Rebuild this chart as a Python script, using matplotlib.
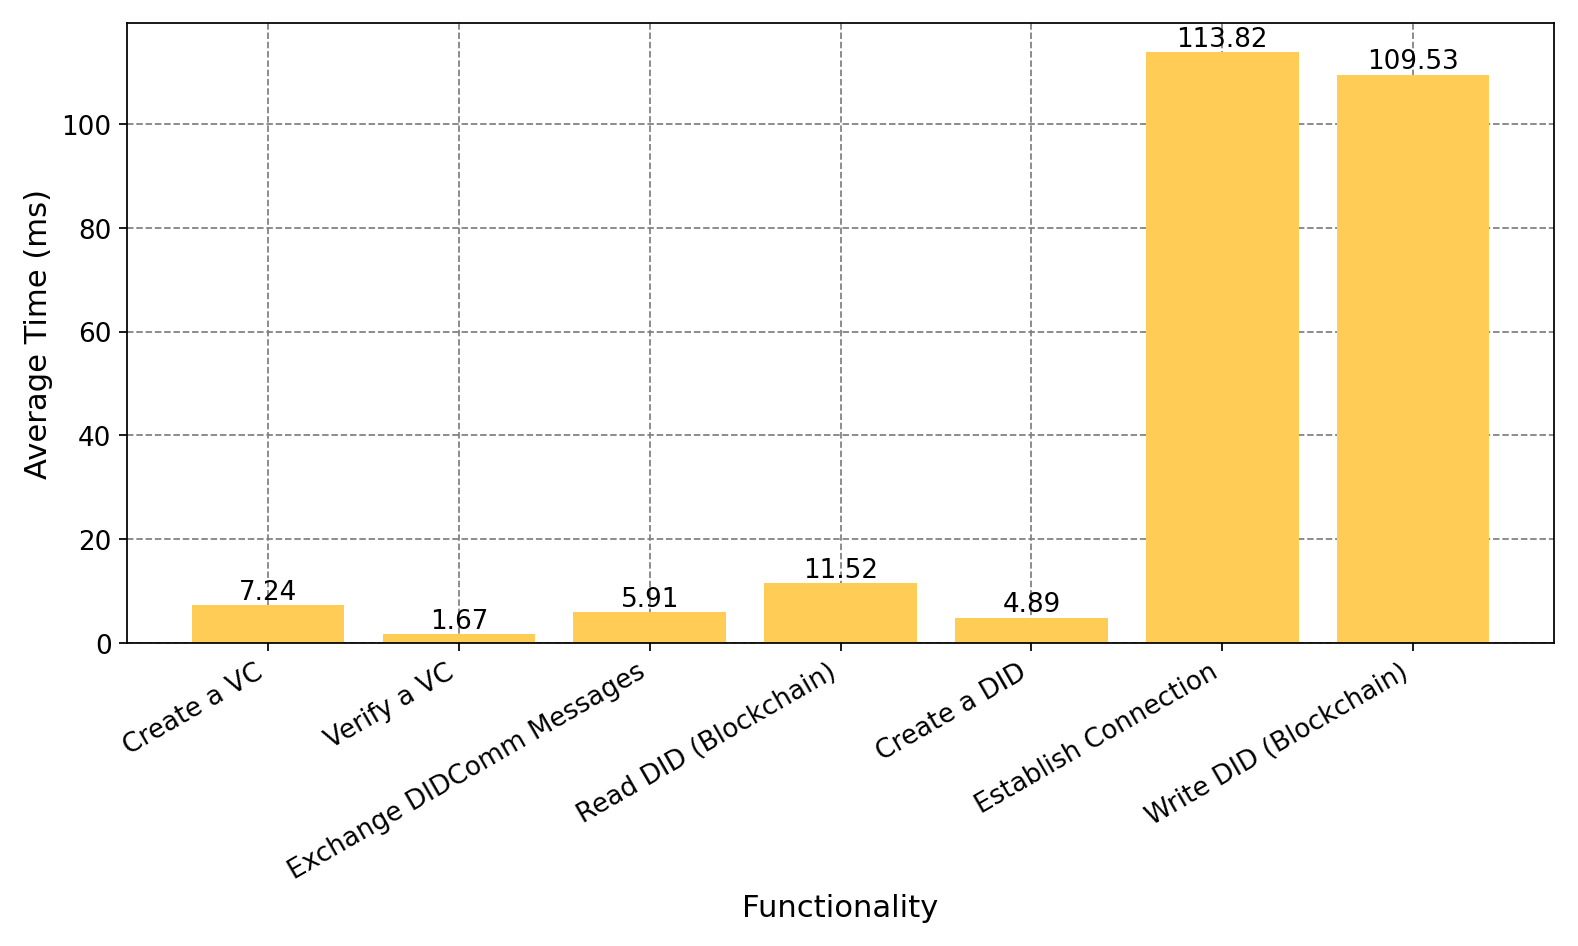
import matplotlib.pyplot as plt

functions = ['Create a VC', 'Verify a VC', 'Exchange DIDComm Messages',
             'Read DID (Blockchain)', 'Create a DID', 'Establish Connection',
             'Write DID (Blockchain)']
avg_times = [7.24, 1.67, 5.91, 11.52, 4.89, 113.82, 109.53]

fig, ax = plt.subplots(figsize=(10, 6), dpi=157.8)
ax.set_axisbelow(True)
ax.grid(True, linestyle='--', color='gray', linewidth=0.8)
bars = ax.bar(functions, avg_times, color='#FFCC55')
for b, v in zip(bars, avg_times):
    ax.text(b.get_x() + b.get_width() / 2, v, f'{v:.2f}', ha='center', va='bottom', fontsize=12)

ax.set_xlabel('Functionality', fontsize=14)
ax.set_ylabel('Average Time (ms)', fontsize=14)
ax.tick_params(labelsize=12)
plt.xticks(rotation=30, ha='right')
plt.tight_layout()
plt.savefig('out.png')
